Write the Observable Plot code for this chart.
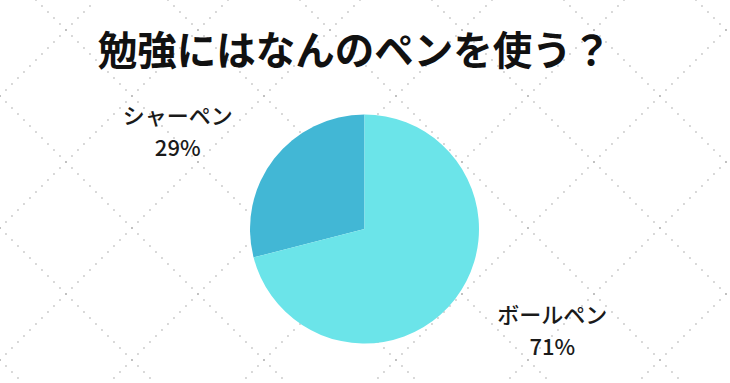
<!DOCTYPE html>
<html>
<head>
<meta charset="utf-8">
<script src="https://cdn.jsdelivr.net/npm/d3@7"></script>
<script src="https://cdn.jsdelivr.net/npm/@observablehq/plot@0.6"></script>
<style>
  html, body { margin: 0; padding: 0; background: #fff; }
  #chart { width: 730px; height: 383px; }
</style>
</head>
<body>
<div id="chart"></div>
<script>
const title = "勉強にはなんのペンを使う？";
const categories = ["シャーペン", "ボールペン"];
const values = [29, 71];
const valueLabels = ["29%", "71%"];
const colors = ["#42b7d5", "#6be4e9"];

const data = categories.map((c, i) => ({category: c, value: values[i], label: valueLabels[i], color: colors[i]}));

// counterclockwise from 12 o'clock
const arcs = d3.pie().sort(null).value(d => d.value).startAngle(0).endAngle(-2 * Math.PI)(data);
arcs.forEach(a => { a.data.mid = (a.startAngle + a.endAngle) / 2; });

const W = 730, H = 383;
const CX = 364.5, CY = 229, R = 114.5;
const LX = 2.07, LY = 1.42; // label placement factors (in radii)

function background() {
  const g = d3.create("svg:g");
  const step = 132, dash = 6 * Math.SQRT2;
  for (let c = 96 - 5 * step; c < W + H + step; c += step) {
    g.append("line").attr("x1", 0).attr("y1", c).attr("x2", c).attr("y2", 0);
  }
  for (let c = 36 - 4 * step; c < W + step; c += step) {
    g.append("line").attr("x1", 0).attr("y1", -c).attr("x2", W + H).attr("y2", W + H - c);
  }
  g.selectAll("line")
    .attr("stroke", "#9a9a9a")
    .attr("stroke-width", 1.4)
    .attr("stroke-linecap", "round")
    .attr("stroke-dasharray", `0 ${dash}`);
  return g.node();
}

function pie(index, scales) {
  const x = scales.x, y = scales.y;
  const cx = x(0), cy = y(0), r = x(1) - x(0);
  const arc = d3.arc().innerRadius(0).outerRadius(r);
  const g = d3.create("svg:g").attr("transform", `translate(${cx},${cy})`);
  g.selectAll("path").data(arcs).join("path")
    .attr("d", arc)
    .attr("fill", d => d.data.color);
  return g.node();
}

const chart = Plot.plot({
  width: W,
  height: H,
  margin: 0,
  style: {background: "transparent", fontFamily: "'Noto Sans CJK JP', 'Noto Sans', sans-serif"},
  x: {domain: [-1, 1], range: [CX - R, CX + R], axis: null},
  y: {domain: [-1, 1], range: [CY + R, CY - R], axis: null},
  marks: [
    background,
    pie,
    Plot.text(arcs, {
      x: d => LX * Math.sin(d.data.mid),
      y: d => LY * Math.cos(d.data.mid),
      text: d => d.data.category + "\n" + d.data.label,
      fontSize: 22,
      fontWeight: 500,
      lineHeight: 1.43,
      fill: "#1a1a1a",
      textAnchor: "middle",
      lineAnchor: "middle"
    }),
    Plot.text([title], {
      frameAnchor: "top",
      lineAnchor: "middle",
      dx: -11,
      dy: 52,
      fontSize: 39.5,
      fontWeight: 700,
      fill: "#111"
    })
  ]
});
document.getElementById("chart").appendChild(chart);
</script>
</body>
</html>
